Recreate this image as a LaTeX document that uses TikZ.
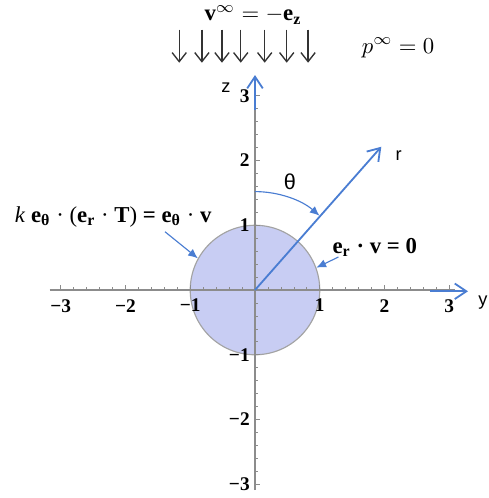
\documentclass[tikz,border=0pt]{standalone}
\usepackage{fontspec}
\setmainfont{Liberation Serif}
\newfontfamily\sanslbl{Liberation Sans}
\usetikzlibrary{arrows.meta}
\definecolor{axblue}{HTML}{4A7DD2}
\definecolor{discfill}{HTML}{C8CDF3}
\definecolor{axgray}{HTML}{8C8C8C}

\begin{document}
\begin{tikzpicture}[
ax/.style={axgray, line width=0.5pt},
bluearrow/.style={axblue, line width=0.8pt, -{Straight Barb[length=1.8mm, width=2.4mm]}},
note/.style={axblue, line width=0.5pt, -{Latex[length=1.5mm, width=1.3mm]}},
flow/.style={black!80, line width=0.6pt, -{Straight Barb[length=1.4mm, width=2.2mm]}},
ticklbl/.style={font=\fontsize{8.5}{10}\selectfont\bfseries, inner sep=1pt},
axlbl/.style={font=\sanslbl\fontsize{8}{10}\selectfont, inner sep=0pt},
eqlbl/.style={font=\fontsize{10}{12}\selectfont, inner sep=0pt}
]
\useasboundingbox (-3.938,-3.212) rectangle (3.614,4.479);

\node[circle, fill=discfill, draw=axgray!80, line width=0.5pt, minimum size=2cm, inner sep=0pt] (disc) at (0,0) {};

\coordinate (O) at (0,0);
\coordinate (xl) at (-3.17,0);
\coordinate (xr) at (3.09,0);
\coordinate (zb) at (0,-3.09);
\coordinate (zt) at (0,3.05);
\draw[ax] (xl) -- (xr);
\draw[ax] (zb) -- (zt);
\foreach \i in {-15,...,15} {
  \draw[ax, line width=0.3pt] (\i/5,0) -- (\i/5,0.05);
  \draw[ax, line width=0.3pt] (0,\i/5) -- (0.05,\i/5);
}
\foreach \k in {-3,-2,-1,1,2,3} {
  \draw[ax] (\k,0) -- (\k,0.08);
  \draw[ax] (0,\k) -- (0.08,\k);
}
\foreach \k/\t in {-3/−3,-2/−2,-1/−1,1/1,2/2,3/3} {
  \node[ticklbl, anchor=north] (xt\k) at (\k,-0.1) {\t};
  \node[ticklbl, anchor=east] (zt\k) at (-0.04,\k) {\t};
}

\coordinate (ya) at (2.70,-0.02);
\coordinate (yb) at (3.29,-0.02);
\draw[bluearrow] (ya) -- (yb);
\node[axlbl] (ylbl) at (3.52,-0.2) {y};
\coordinate (za) at (0,2.78);
\coordinate (zb2) at (0,3.32);
\draw[bluearrow] (za) -- (zb2);
\node[axlbl] (zlbl) at (-0.45,3.12) {z};

\coordinate (rtip) at (48.6:2.95);
\draw[bluearrow] (O) -- (rtip);
\node[axlbl] (rlbl) at (2.22,2.07) {r};

\coordinate (th0) at (90:1.52);
\draw[note] (th0) arc[start angle=90, end angle=49, radius=1.52];
\node[axlbl, font=\sanslbl\fontsize{9.5}{11}\selectfont] (thlbl) at (0.54,1.67) {θ};

\node[eqlbl, font=\fontsize{10}{12}\selectfont\bfseries] (bclbl) at (1.85,0.66) {e\textsubscript{r} · v = 0};
\draw[note] (bclbl.195) -- (disc.20.5);

\node[eqlbl, font=\fontsize{10}{12}\selectfont] (slip) at (-2.19,1.13) {\textit{k} \textbf{e\textsubscript{θ}} · (\textbf{e\textsubscript{r}} · \textbf{T}) \textbf{=} \textbf{e\textsubscript{θ}} · \textbf{v}};
\coordinate (slipa) at (-1.39,0.90);
\draw[note] (slipa) -- (disc.151.5);

\node[eqlbl] (vinf) at (-0.03,4.25) {\textbf{v}$^{\infty}=-$\textbf{e\textsubscript{z}}};
\foreach \x [count=\n] in {-1.17,-0.82,-0.51,-0.22,0.15,0.49,0.82} {
  \coordinate (fa\n) at (\x,4.02);
  \coordinate (fb\n) at (\x,3.51);
  \draw[flow] (fa\n) -- (fb\n);
}
\node[eqlbl] (pinf) at (2.21,3.74) {$p^{\infty}=0$};
\end{tikzpicture}
\end{document}
